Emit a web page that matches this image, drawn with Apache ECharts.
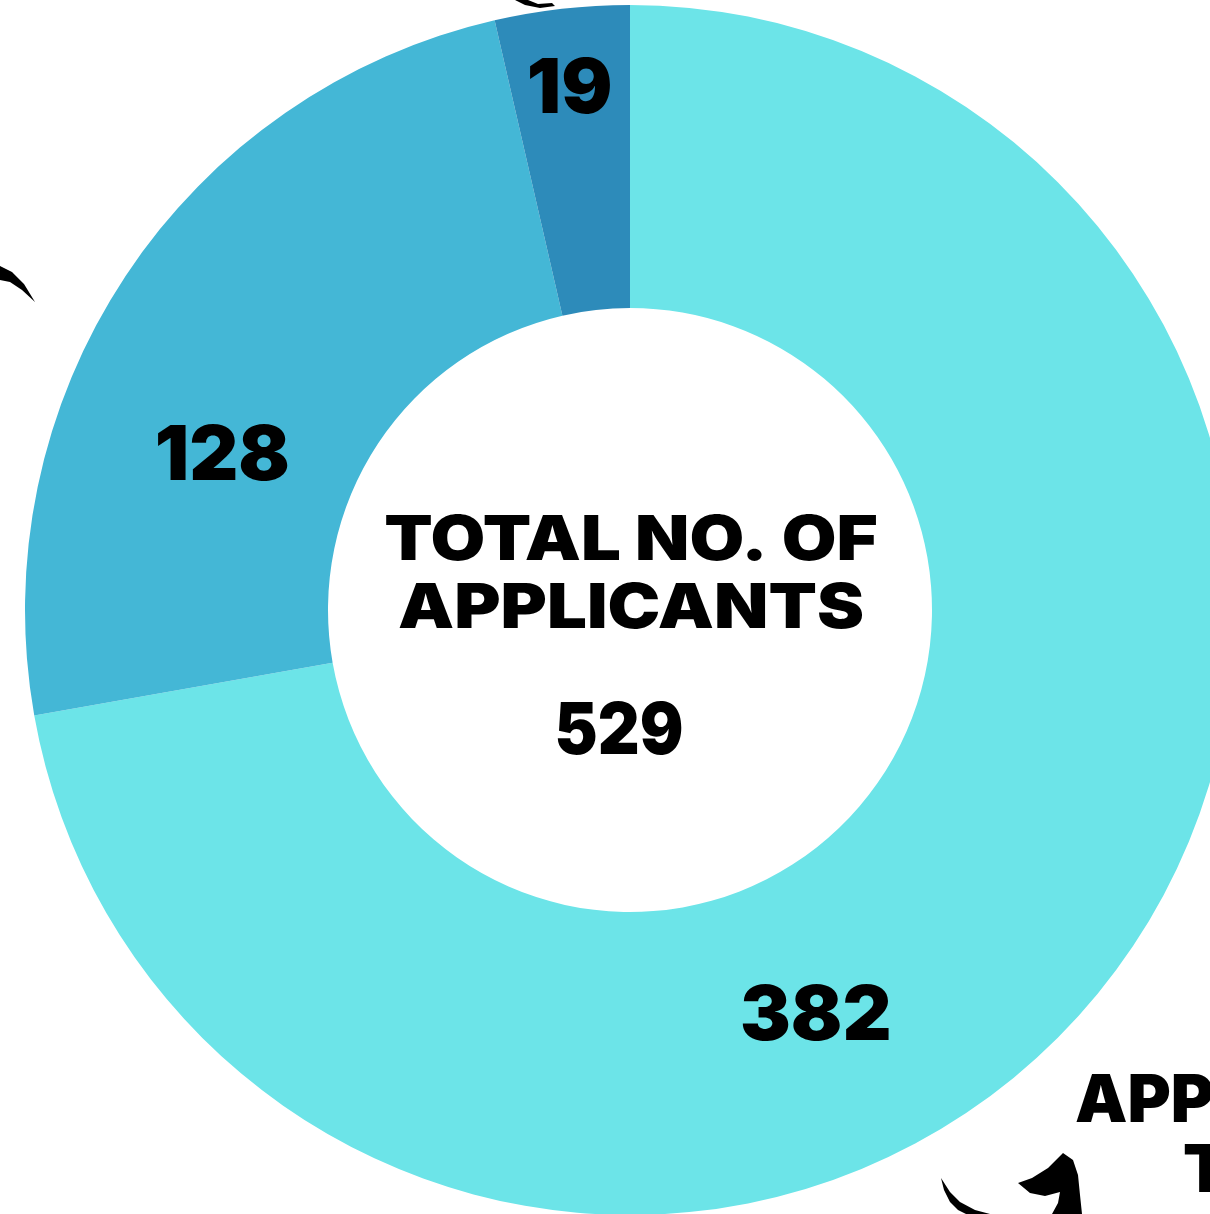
<!DOCTYPE html>
<html><head><meta charset="utf-8">
<script src="https://cdn.jsdelivr.net/npm/echarts@6/dist/echarts.min.js"></script>
<style>html,body{margin:0;padding:0;background:#fff}#c{width:1210px;height:1214px}</style>
</head><body><div id="c"></div>
<script>
const categories = ['A', 'B', 'C'];
const values = [382, 128, 19];
const colors = ['#6ce4e8', '#44b7d6', '#2d8bba'];
const labelOffsets = [[-164, 114], [-27, 99], [-9, -66]];
const centerTitle = 'TOTAL NO. OF\nAPPLICANTS';
const total = values.reduce((a, b) => a + b, 0);
const FONT = 'Inter';

const chart = echarts.init(document.getElementById('c'), null, {renderer: 'canvas'});
chart.setOption({
  backgroundColor: '#fff',
  animation: false,
  series: [{
    type: 'pie',
    center: [630, 610],
    radius: [302, 605],
    startAngle: 90,
    clockwise: true,
    silent: true,
    z: 1,
    itemStyle: {borderWidth: 0},
    label: {
      show: true, position: 'inside', formatter: '{c}',
      color: '#000', fontFamily: FONT, fontWeight: 900, fontSize: 76
    },
    labelLine: {show: false},
    data: values.map((v, i) => ({
      name: categories[i], value: v,
      itemStyle: {color: colors[i]},
      label: {offset: labelOffsets[i]}
    }))
  }],
  graphic: [
    {type: 'text', z: 100, x: 631, y: 575, scaleX: 1.14, originX: 0, originY: 0, style: {text: centerTitle, fill: '#000', font: `900 62px ${FONT}`, align: 'center', verticalAlign: 'middle', lineHeight: 68}},
    {type: 'text', z: 100, x: 619, y: 732, scaleX: 0.9, originX: 0, originY: 0, style: {text: String(total), fill: '#000', font: `900 72px ${FONT}`, align: 'center', verticalAlign: 'middle'}},
    {type: 'text', z: 100, x: 1075, y: 1102, style: {text: 'APP', fill: '#000', font: `900 66px ${FONT}`, align: 'left', verticalAlign: 'middle'}},
    {type: 'text', z: 100, x: 1183, y: 1172, style: {text: 'T', fill: '#000', font: `900 66px ${FONT}`, align: 'left', verticalAlign: 'middle'}},
    {type: 'polygon', z: 100, shape: {points: [[0,266],[12,272],[24,284],[35,302],[22,290],[10,282],[0,280]]}, style: {fill: '#000'}},
    {type: 'polygon', z: 100, shape: {points: [[515,0],[525,5],[540,8],[555,6],[552,3],[538,4],[528,0]]}, style: {fill: '#000'}},
    {type: 'polygon', z: 100, shape: {points: [[941,1178],[944,1190],[950,1202],[958,1210],[966,1214],[990,1214],[975,1210],[960,1202],[950,1192]]}, style: {fill: '#000'}},
    {type: 'polygon', z: 100, shape: {points: [[1018,1183],[1032,1178],[1048,1168],[1063,1153],[1073,1160],[1078,1175],[1080,1195],[1082,1214],[1052,1214],[1058,1203],[1060,1192],[1045,1196],[1030,1193]]}, style: {fill: '#000'}}
  ]
});
</script></body></html>
